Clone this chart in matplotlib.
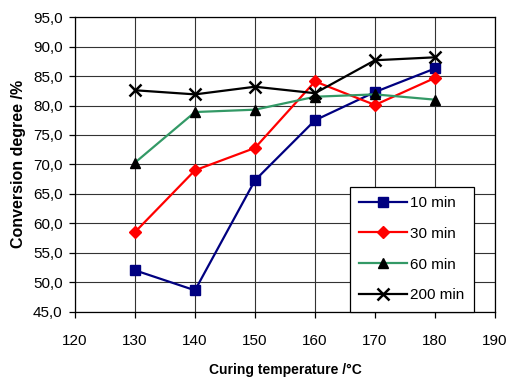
import matplotlib
matplotlib.use("Agg")
import matplotlib.pyplot as plt
from matplotlib.ticker import FuncFormatter, MultipleLocator

# curing temperatures (°C)
temps = [130, 140, 150, 160, 170, 180]

# conversion degree (%) per curing time
conv_10 = [52.0, 48.6, 67.3, 77.5, 82.3, 86.3]
conv_30 = [58.5, 69.0, 72.8, 84.1, 80.1, 84.7]
conv_60 = [70.3, 78.9, 79.3, 81.5, 81.9, 81.0]
conv_200 = [82.6, 81.9, 83.2, 82.1, 87.7, 88.2]

series_labels = ["10 min", "30 min", "60 min", "200 min"]

plt.rcParams['font.family'] = ['Liberation Sans', 'DejaVu Sans']

fig = plt.figure(figsize=(5.08, 3.80), dpi=100)
ax = fig.add_axes([75 / 508, 1 - 311.5 / 380, 420 / 508, (311.5 - 17.3) / 380])

ax.plot(temps, conv_10, color='#000080', lw=1.6, marker='s', ms=7,
        mfc='#000080', mec='#000080', label=series_labels[0], zorder=3)
ax.plot(temps, conv_30, color='#FF0000', lw=1.6, marker='D', ms=6.3,
        mfc='#FF0000', mec='#FF0000', label=series_labels[1], zorder=3)
ax.plot(temps, conv_60, color='#339966', lw=1.6, marker='^', ms=7.5,
        mfc='black', mec='black', label=series_labels[2], zorder=3)
ax.plot(temps, conv_200, color='black', lw=1.6, marker='x', ms=8.5, mew=1.8,
        label=series_labels[3], zorder=3)

ax.set_xlim(120, 190)
ax.set_ylim(45, 95)
ax.xaxis.set_major_locator(MultipleLocator(10))
ax.yaxis.set_major_locator(MultipleLocator(5))
ax.yaxis.set_major_formatter(FuncFormatter(lambda v, p: f"{v:.1f}".replace('.', ',')))

ax.grid(True, color='#333333', lw=0.8, zorder=0)
ax.set_axisbelow(True)
for s in ax.spines.values():
    s.set_color('black')
    s.set_linewidth(0.9)

ax.tick_params(axis='x', direction='out', length=4, width=0.9, pad=12, labelsize=11)
ax.tick_params(axis='y', direction='out', length=4, width=0.9, pad=5, labelsize=11)

ax.set_xlabel("Curing temperature /°C", fontsize=10, fontweight='bold', labelpad=11)
ax.set_ylabel("Conversion degree /%", fontsize=11.5, fontweight='bold', labelpad=5)

leg = ax.legend(loc='lower left', bbox_to_anchor=(0.655, 0.0), borderaxespad=0,
                fontsize=11, handlelength=3.1, handletextpad=0.25, labelspacing=1.1,
                fancybox=False, framealpha=1, edgecolor='black', borderpad=0.6)
leg.get_frame().set_linewidth(0.9)

fig.savefig("out.png", dpi=100)
